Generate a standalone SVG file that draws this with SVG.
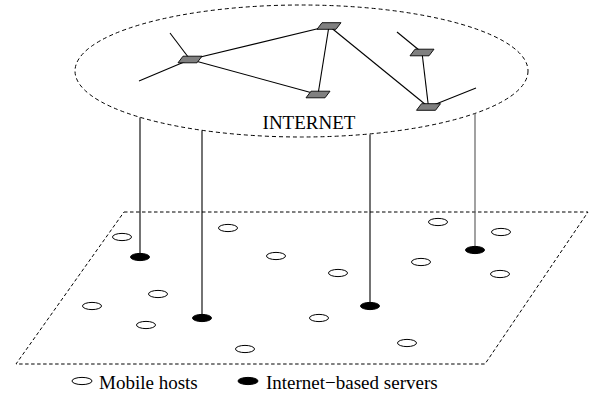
<svg xmlns="http://www.w3.org/2000/svg" width="593" height="395" viewBox="0 0 593 395">
  <style>
    .cloud { fill: none; stroke: #000; stroke-width: 1; stroke-dasharray: 4 3; }
    .plane { fill: none; stroke: #000; stroke-width: 1; stroke-dasharray: 3.5 2.5; }
    .link { stroke: #000; stroke-width: 1.1; fill: none; }
    .drop { stroke: #000; stroke-width: 1.1; }
    .drop.grey { stroke: #555; }
    .router { fill: #808080; stroke: #000; stroke-width: 0.9; }
    .host { fill: #fff; stroke: #000; stroke-width: 1; }
    .server { fill: #000; stroke: #000; stroke-width: 1; }
    .label { font-family: "Liberation Serif", "Times New Roman", serif; font-size: 19px; fill: #000; }
  </style>
  <defs>
    <polygon id="router-shape" points="-7,-3.3 12,-3.3 7,3.3 -12,3.3"/>
    <ellipse id="dot" rx="9.5" ry="3.6"/>
  </defs>

  <rect width="593" height="395" fill="#fff"/>

  <!-- Internet cloud -->
  <g id="internet">
    <ellipse class="cloud" cx="301.5" cy="71" rx="226.5" ry="66"/>
    <text class="label" x="309" y="129" text-anchor="middle">INTERNET</text>
  </g>

  <!-- Ground plane where hosts roam -->
  <g id="plane">
    <polygon class="plane" points="124,212 588,212 485,364 16,364"/>
  </g>

  <!-- Connectors: backbone links and server drops -->
  <g id="connectors">
    <line class="link" x1="170" y1="33" x2="190" y2="59.5"/>
    <line class="link" x1="139" y1="81" x2="190" y2="59.5"/>
    <line class="link" x1="190" y1="59.5" x2="329" y2="26"/>
    <line class="link" x1="190" y1="59.5" x2="318" y2="94.5"/>
    <line class="link" x1="329" y1="26" x2="318" y2="94.5"/>
    <line class="link" x1="329" y1="26" x2="428.5" y2="107"/>
    <line class="link" x1="422" y1="52.5" x2="428.5" y2="107"/>
    <line class="link" x1="397" y1="32" x2="422" y2="52.5"/>
    <line class="link" x1="428.5" y1="107" x2="476" y2="88"/>

    <line class="drop" x1="140" y1="117.5" x2="140" y2="257"/>
    <line class="drop" x1="202" y1="130.5" x2="202" y2="318"/>
    <line class="drop" x1="370" y1="134.5" x2="370" y2="306"/>
    <line class="drop grey" x1="475" y1="113.5" x2="475" y2="250"/>
  </g>

  <!-- Routers -->
  <g id="router-1"><use href="#router-shape" class="router" x="190" y="59.5"/></g>
  <g id="router-2"><use href="#router-shape" class="router" x="329" y="26"/></g>
  <g id="router-3"><use href="#router-shape" class="router" x="318" y="94.5"/></g>
  <g id="router-4"><use href="#router-shape" class="router" x="422" y="52.5"/></g>
  <g id="router-5"><use href="#router-shape" class="router" x="428.5" y="107"/></g>

  <!-- Internet-based servers -->
  <g id="server-1"><use href="#dot" class="server" x="140" y="257"/></g>
  <g id="server-2"><use href="#dot" class="server" x="202" y="318"/></g>
  <g id="server-3"><use href="#dot" class="server" x="370" y="306"/></g>
  <g id="server-4"><use href="#dot" class="server" x="475" y="250"/></g>

  <!-- Mobile hosts -->
  <g id="host-1"><use href="#dot" class="host" x="122" y="237"/></g>
  <g id="host-2"><use href="#dot" class="host" x="228" y="228"/></g>
  <g id="host-3"><use href="#dot" class="host" x="438" y="222"/></g>
  <g id="host-4"><use href="#dot" class="host" x="501" y="232"/></g>
  <g id="host-5"><use href="#dot" class="host" x="276" y="256"/></g>
  <g id="host-6"><use href="#dot" class="host" x="421" y="262"/></g>
  <g id="host-7"><use href="#dot" class="host" x="338" y="273"/></g>
  <g id="host-8"><use href="#dot" class="host" x="500" y="274"/></g>
  <g id="host-9"><use href="#dot" class="host" x="158" y="294"/></g>
  <g id="host-10"><use href="#dot" class="host" x="92" y="306"/></g>
  <g id="host-11"><use href="#dot" class="host" x="146" y="325"/></g>
  <g id="host-12"><use href="#dot" class="host" x="319" y="318"/></g>
  <g id="host-13"><use href="#dot" class="host" x="245" y="349"/></g>
  <g id="host-14"><use href="#dot" class="host" x="407" y="343"/></g>

  <!-- Legend -->
  <g id="legend">
    <ellipse class="host" cx="82" cy="381" rx="10" ry="3.6"/>
    <text class="label" x="99" y="389">Mobile hosts</text>
    <ellipse class="server" cx="248" cy="381" rx="10" ry="3.6"/>
    <text class="label" x="266" y="389">Internet−based servers</text>
  </g>
</svg>
